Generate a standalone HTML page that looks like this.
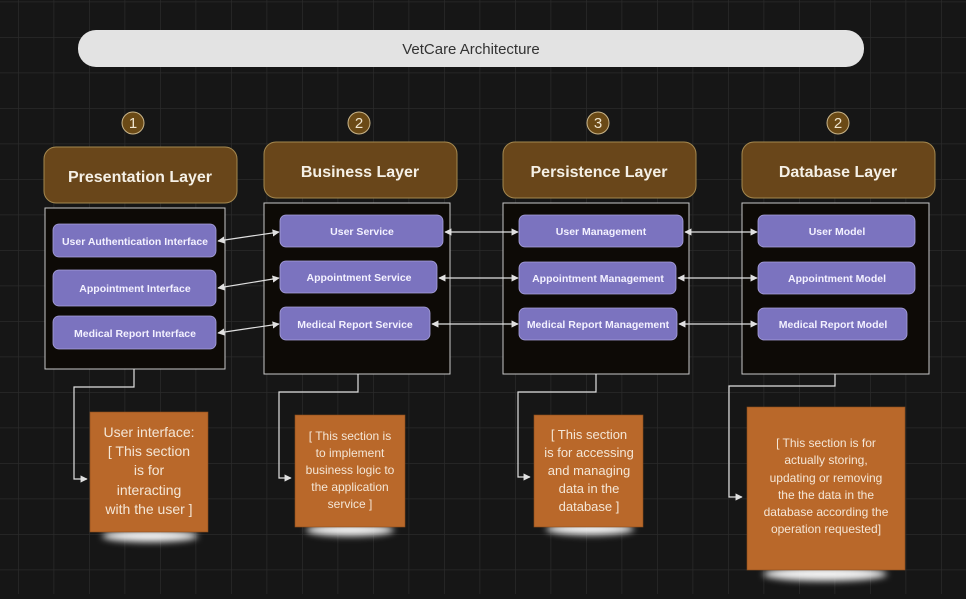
<!DOCTYPE html>
<html><head><meta charset="utf-8"><style>
html,body{margin:0;padding:0;background:#161616;}
body{width:966px;height:594px;overflow:hidden;font-family:"Liberation Sans",sans-serif;}
</style></head><body>
<svg width="966" height="594" xmlns="http://www.w3.org/2000/svg" font-family="Liberation Sans, DejaVu Sans, sans-serif">
<defs>
<pattern id="g" x="18" y="1.5" width="35.5" height="35.5" patternUnits="userSpaceOnUse">
<path d="M0 0H35.5M0 0V35.5" stroke="#2a2a2a" stroke-width="1.5" fill="none"/>
</pattern>
<marker id="a" viewBox="0 0 10 10" refX="9" refY="5" markerWidth="6" markerHeight="6" orient="auto-start-reverse"><path d="M0 0L10 5L0 10z" fill="#e0e0e0"/></marker>
<filter id="b" x="-20%" y="-100%" width="140%" height="300%"><feGaussianBlur stdDeviation="3.5"/></filter>
</defs>
<rect width="966" height="594" fill="url(#g)"/>
<rect x="78" y="30" width="786" height="37" rx="18" fill="#e3e3e3"/>
<text x="471" y="54" text-anchor="middle" font-size="15" fill="#333">VetCare Architecture</text>
<g fill="#6b4a16" stroke="#c9b58a" stroke-width="1">
<circle cx="133" cy="123" r="11"/><circle cx="359" cy="123" r="11"/><circle cx="598" cy="123" r="11"/><circle cx="838" cy="123" r="11"/></g>
<g fill="#f0e6d0" font-size="15" text-anchor="middle"><text x="133" y="128">1</text><text x="359" y="128">2</text><text x="598" y="128">3</text><text x="838" y="128">2</text></g>
<g fill="#69461a" stroke="#a4884f" stroke-width="1">
<rect x="44" y="147" width="193" height="56" rx="12"/><rect x="264" y="142" width="193" height="56" rx="12"/><rect x="503" y="142" width="193" height="56" rx="12"/><rect x="742" y="142" width="193" height="56" rx="12"/></g>
<g fill="#f5f0e6" font-size="16" font-weight="bold" text-anchor="middle">
<text x="140" y="182">Presentation Layer</text><text x="360" y="177">Business Layer</text><text x="599" y="177">Persistence Layer</text><text x="838" y="177">Database Layer</text></g>
<g fill="#0d0a06" stroke="#c8c8c8" stroke-width="1">
<rect x="45" y="208" width="180" height="161"/><rect x="264" y="203" width="186" height="171"/><rect x="503" y="203" width="186" height="171"/><rect x="742" y="203" width="187" height="171"/></g>
<g fill="#7b73bf" stroke="#a9a3dc" stroke-width="0.8">
<rect x="53" y="224" width="163" height="33" rx="6"/><rect x="53" y="270" width="163" height="36" rx="6"/><rect x="53" y="316" width="163" height="33" rx="6"/>
<rect x="280" y="215" width="163" height="32" rx="6"/><rect x="280" y="261" width="157" height="32" rx="6"/><rect x="280" y="307" width="150" height="33" rx="6"/>
<rect x="519" y="215" width="164" height="32" rx="6"/><rect x="519" y="262" width="157" height="32" rx="6"/><rect x="519" y="308" width="158" height="32" rx="6"/>
<rect x="758" y="215" width="157" height="32" rx="6"/><rect x="758" y="262" width="157" height="32" rx="6"/><rect x="758" y="308" width="149" height="32" rx="6"/></g>
<g fill="#f3f1ff" font-size="10.5" font-weight="bold" text-anchor="middle">
<text x="135" y="245">User Authentication Interface</text><text x="135" y="292">Appointment Interface</text><text x="135" y="337">Medical Report Interface</text>
<text x="362" y="235">User Service</text><text x="359" y="281">Appointment Service</text><text x="355" y="328">Medical Report Service</text>
<text x="601" y="235">User Management</text><text x="598" y="282">Appointment Management</text><text x="598" y="328">Medical Report Management</text>
<text x="837" y="235">User Model</text><text x="837" y="282">Appointment Model</text><text x="833" y="328">Medical Report Model</text></g>
<g stroke="#e0e0e0" stroke-width="1.2" fill="none" marker-start="url(#a)" marker-end="url(#a)">
<line x1="218" y1="241" x2="279" y2="232"/><line x1="218" y1="288" x2="279" y2="278"/><line x1="218" y1="333" x2="279" y2="324"/>
<line x1="445" y1="232" x2="518" y2="232"/><line x1="439" y1="278" x2="518" y2="278"/><line x1="432" y1="324" x2="518" y2="324"/>
<line x1="685" y1="232" x2="757" y2="232"/><line x1="678" y1="278" x2="757" y2="278"/><line x1="679" y1="324" x2="757" y2="324"/></g>
<g stroke="#e0e0e0" stroke-width="1.2" fill="none" marker-end="url(#a)">
<path d="M134 369V387H74V479H87"/><path d="M358 374V392H279V478H291"/><path d="M596 374V392H518V477H530"/><path d="M835 374V386H729V497H742"/></g>
<g fill="#f2f2f2" filter="url(#b)">
<ellipse cx="150" cy="536" rx="48" ry="6"/><ellipse cx="350" cy="530" rx="44" ry="6"/><ellipse cx="590" cy="529" rx="44" ry="6"/><ellipse cx="825" cy="574" rx="62" ry="7"/></g>
<g fill="#b9682a" stroke="#8a4c1c" stroke-width="0.6">
<rect x="90" y="412" width="118" height="120"/><rect x="295" y="415" width="110" height="112"/><rect x="534" y="415" width="109" height="112"/><rect x="747" y="407" width="158" height="163"/></g>
<g fill="#f4e6d6" text-anchor="middle">
<g font-size="14"><text x="149" y="437">User interface:</text><text x="149" y="456">[ This section</text><text x="149" y="475">is for</text><text x="149" y="495">interacting</text><text x="149" y="514">with the user ]</text></g>
<g font-size="12"><text x="350" y="440">[ This section is</text><text x="350" y="457">to implement</text><text x="350" y="474">business logic to</text><text x="350" y="491">the application</text><text x="350" y="508">service ]</text></g>
<g font-size="13"><text x="589" y="439">[ This section</text><text x="589" y="457">is for accessing</text><text x="589" y="475">and managing</text><text x="589" y="493">data in the</text><text x="589" y="511">database ]</text></g>
<g font-size="12"><text x="826" y="447">[ This section is for</text><text x="826" y="464">actually storing,</text><text x="826" y="482">updating or removing</text><text x="826" y="499">the the data in the</text><text x="826" y="516">database according the</text><text x="826" y="533">operation requested]</text></g>
</g>
</svg>
</body></html>
